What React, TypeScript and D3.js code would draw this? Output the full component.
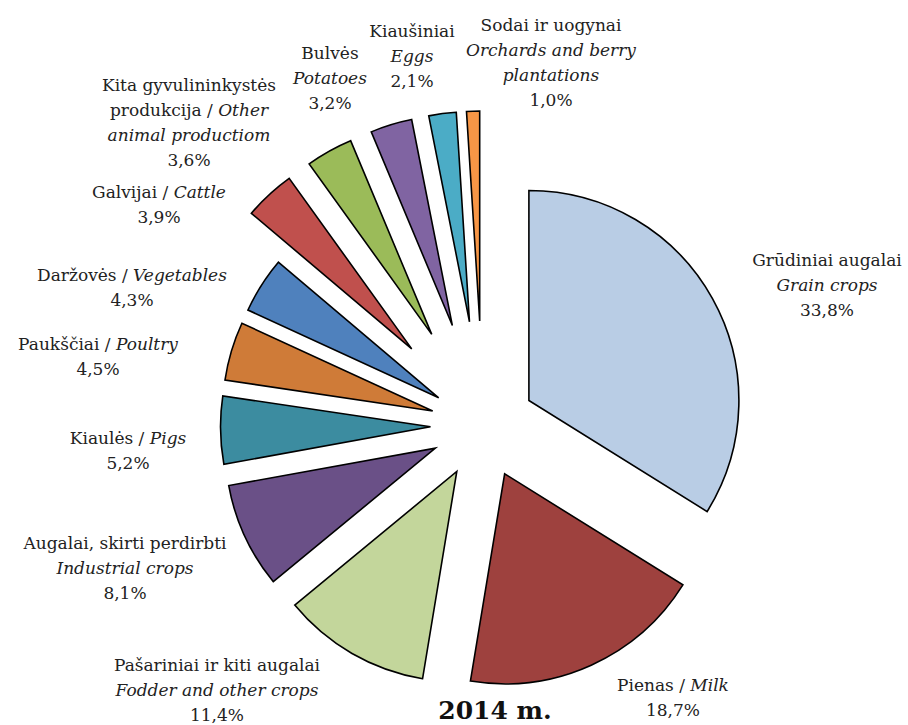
import React from "react";
import * as d3 from "d3";

const categoriesLT = [
  "Grūdiniai augalai",
  "Pienas",
  "Pašariniai ir kiti augalai",
  "Augalai, skirti perdirbti",
  "Kiaulės",
  "Paukščiai",
  "Daržovės",
  "Galvijai",
  "Kita gyvulininkystės produkcija",
  "Bulvės",
  "Kiaušiniai",
  "Sodai ir uogynai",
];
const categoriesEN = [
  "Grain crops",
  "Milk",
  "Fodder and other crops",
  "Industrial crops",
  "Pigs",
  "Poultry",
  "Vegetables",
  "Cattle",
  "Other animal productiom",
  "Potatoes",
  "Eggs",
  "Orchards and berry plantations",
];
const values = [33.8, 18.7, 11.4, 8.1, 5.2, 4.5, 4.3, 3.9, 3.6, 3.2, 2.1, 1.0];
const title = "2014 m.";

// styling / layout (not data)
const colors = [
  "#B9CDE5", "#9E413E", "#C3D69B", "#6A5087", "#3C8CA0", "#CF7B38",
  "#4F81BD", "#C0504D", "#9BBB59", "#8064A2", "#4BACC6", "#F79646",
];
const explodeFrac = [0.25, 0.25, 0.25, 0.25, 0.25, 0.25, 0.25, 0.5, 0.5, 0.5, 0.5, 0.5];

type Seg = { t: string; i?: boolean };
const pct = (v: number) => v.toFixed(1).replace(".", ",") + "%";

function labelLines(k: number): Seg[][] {
  const lt = categoriesLT[k];
  const en = categoriesEN[k];
  const p = { t: pct(values[k]) };
  switch (k) {
    case 0:
    case 3:
    case 2:
    case 9:
    case 10:
      return [[{ t: lt }], [{ t: en, i: true }], [p]];
    case 11: {
      const w = en.split(" ");
      return [[{ t: lt }], [{ t: w.slice(0, 3).join(" "), i: true }], [{ t: w.slice(3).join(" "), i: true }], [p]];
    }
    case 8: {
      const lw = lt.split(" ");
      const ew = en.split(" ");
      return [
        [{ t: lw[0] + " " + lw[1] }],
        [{ t: lw[2] + " / " }, { t: ew[0], i: true }],
        [{ t: ew.slice(1).join(" "), i: true }],
        [p],
      ];
    }
    default:
      return [[{ t: lt + " / " }, { t: en, i: true }], [p]];
  }
}

const labelPos: [number, number][] = [
  [827, 260], [673, 685], [217, 665], [125, 543], [128, 438], [98, 344],
  [132, 275], [159, 192], [189, 85], [330, 53], [412, 31], [551, 25],
];

export default function App() {
  const W = 908, H = 725;
  const cx = 483, cy = 426, r = 210;
  const pie = d3.pie<number>().sort(null).value((d) => d);
  const arcs = pie(values);
  const arc = d3.arc<d3.PieArcDatum<number>>().innerRadius(0).outerRadius(r);
  const font = "'DejaVu Serif', 'Liberation Serif', serif";
  const fs = 17;
  const lh = 25;

  return (
    <svg
      width={W}
      height={H}
      style={{ position: "absolute", left: 0, top: 0, background: "#fff" }}
      fontFamily={font}
    >
      <g transform={`translate(${cx},${cy})`}>
        {arcs.map((a, i) => {
          const mid = (a.startAngle + a.endAngle) / 2;
          const e = explodeFrac[i] * r;
          const dx = Math.sin(mid) * e;
          const dy = -Math.cos(mid) * e;
          return (
            <path
              key={i}
              d={arc(a) || ""}
              transform={`translate(${dx},${dy})`}
              fill={colors[i]}
              stroke="#000"
              strokeWidth={1.6}
              strokeLinejoin="miter"
            />
          );
        })}
      </g>
      {values.map((_, k) => {
        const [x, y] = labelPos[k];
        const lines = labelLines(k);
        return (
          <text key={k} x={x} y={y + 6} textAnchor="middle" fontSize={fs} fill="#222">
            {lines.map((ln, j) => (
              <tspan key={j} x={x} y={y + 6 + j * lh}>
                {ln.map((s, m) => (
                  <tspan key={m} fontStyle={s.i ? "italic" : "normal"}>
                    {s.t}
                  </tspan>
                ))}
              </tspan>
            ))}
          </text>
        );
      })}
      <text x={495} y={719} textAnchor="middle" fontSize={25} fontWeight="bold" fill="#111">
        {title}
      </text>
    </svg>
  );
}
